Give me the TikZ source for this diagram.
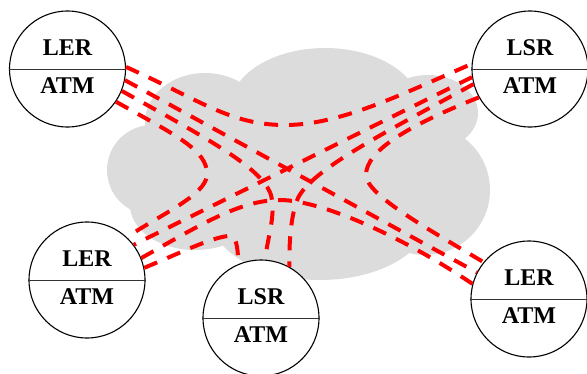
\documentclass[tikz,border=0pt]{standalone}
\usepackage{fontspec}
\setmainfont{Liberation Serif}
\definecolor{cloudgray}{HTML}{DCDCDC}
\begin{document}
\begin{tikzpicture}[x=1pt, y=-1pt,
  router/.style={circle, draw, line width=1.1pt, fill=white, minimum size=116pt, inner sep=0pt},
  tag/.style={font=\fontsize{24}{24}\selectfont\bfseries, anchor=base, inner sep=0pt},
  link/.style={red, line width=4pt, dash pattern=on 14pt off 11pt}]
  \useasboundingbox (0,0) rectangle (587,373);
  % cloud
  \fill[cloudgray] (300,170) ellipse [x radius=150, y radius=80];
  \fill[cloudgray] (205,122) ellipse [x radius=60, y radius=49];
  \fill[cloudgray] (325,108) ellipse [x radius=95, y radius=60];
  \fill[cloudgray] (428,113) ellipse [x radius=50, y radius=38];
  \fill[cloudgray] (425,190) circle (65);
  \fill[cloudgray] (152,170) circle (45);
  \fill[cloudgray] (195,205) ellipse [x radius=65, y radius=45];
  \fill[cloudgray] (320,215) ellipse [x radius=110, y radius=65];
  % routers
  \foreach \n/\pos/\up in {tl/{67.5,69}/LER, tr/{530,69}/LSR, ml/{87,280}/LER, bc/{261,318}/LSR, br/{529,299}/LER} {
    \node[router] (\n) at (\pos) {};
    \draw[line width=0.8pt, black!80] (\n.west) -- (\n.east);
    \node[tag] (\n-up) at ([yshift=14pt]\n.center) {\up};
    \node[tag] (\n-low) at ([yshift=-24pt]\n.center) {ATM};
  }
  % links
  \draw[link] (tl.2) .. controls (200,100) and (230,125) .. (285,125) .. controls (340,125) and (400,95) .. (tr.175);
  \draw[link] (tl.-11) -- (br.153);
  \draw[link] (tl.-22) .. controls (210,140) and (262,168) .. (271,195) .. controls (276,215) and (268,235) .. (bc.86);
  \draw[link] (tl.-34) .. controls (175,135) and (208,150) .. (207,175) .. controls (206,195) and (160,215) .. (ml.47);
  \draw[link] (tr.188) -- (ml.37);
  \draw[link] (tr.195) .. controls (380,135) and (312,170) .. (298,198) .. controls (292,212) and (289,235) .. (bc.61);
  \draw[link] (tr.209) .. controls (410,125) and (366,150) .. (366,175) .. controls (366,195) and (430,230) .. (br.141);
  \draw[link] (ml.22) .. controls (200,225) and (240,200) .. (280,200) .. controls (320,200) and (400,235) .. (br.165);
  \draw[link] (ml.12) .. controls (180,253) and (210,238) .. (228,236) .. controls (236,235) and (238,245) .. (bc.113);
\end{tikzpicture}
\end{document}
